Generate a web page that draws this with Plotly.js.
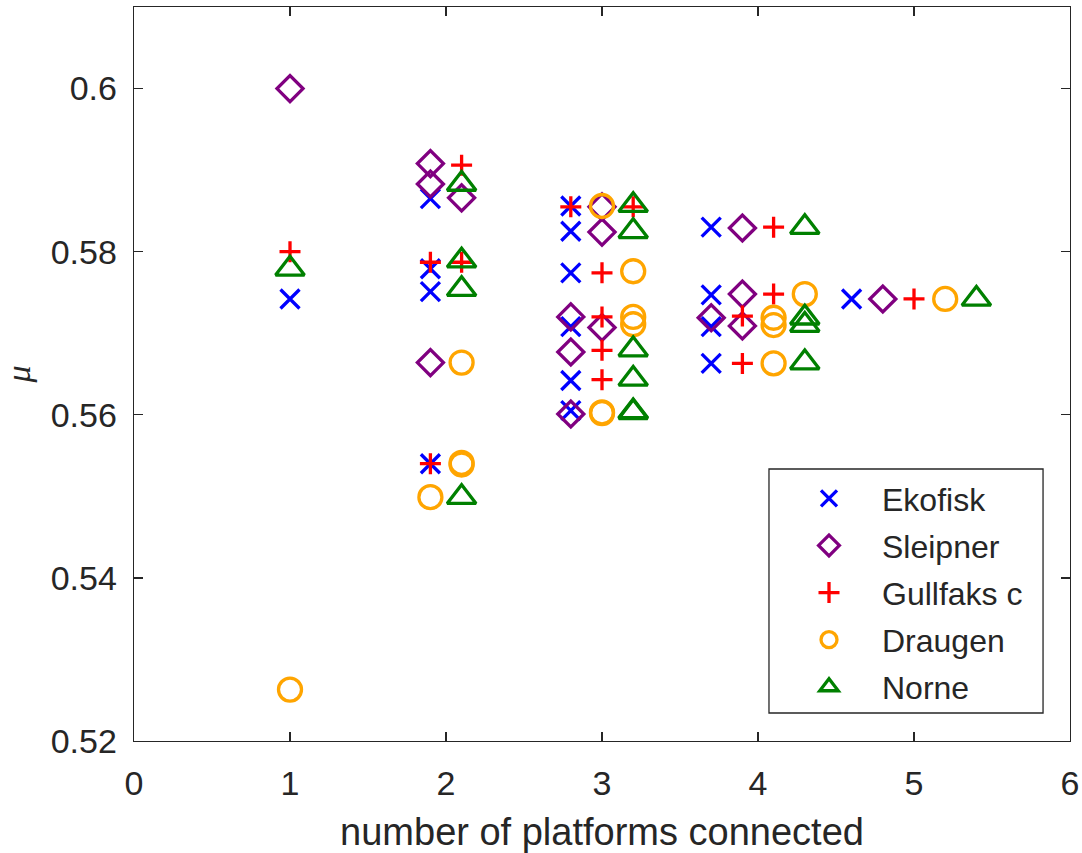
<!DOCTYPE html>
<html>
<head>
<meta charset="utf-8">
<script src="https://cdn.plot.ly/plotly-3.0.1.min.js"></script>
<style>html,body{margin:0;padding:0;background:#fff;}</style>
</head>
<body>
<div id="chart" style="width:1082px;height:853px;"></div>
<script>
// Series data (x = offset position around the number of platforms connected)
const seriesNames = ["Ekofisk", "Sleipner", "Gullfaks c", "Draugen", "Norne"];

const ekofiskX = [1, 1.9, 1.9, 1.9, 1.9, 2.8, 2.8, 2.8, 2.8, 2.8, 2.8, 3.7, 3.7, 3.7, 3.7, 4.6];
const ekofiskY = [0.5742, 0.5865, 0.5779, 0.5751, 0.5540, 0.5856, 0.5825, 0.5774, 0.5708, 0.5642, 0.5605, 0.5830, 0.5747, 0.5708, 0.5663, 0.5742];

const sleipnerX = [1, 1.9, 1.9, 1.9, 2.1, 3.0, 3.0, 3.0, 2.8, 2.8, 2.8, 3.9, 3.9, 3.9, 3.7, 4.8];
const sleipnerY = [0.6000, 0.5908, 0.5883, 0.5664, 0.5866, 0.5855, 0.5824, 0.5707, 0.5720, 0.5677, 0.5601, 0.5829, 0.5748, 0.5709, 0.5719, 0.5742];

const gullfaksX = [1, 1.9, 1.9, 2.1, 2.1, 2.8, 3.0, 3.0, 3.0, 3.0, 3.2, 4.1, 4.1, 3.9, 3.9, 5.0];
const gullfaksY = [0.5800, 0.5787, 0.5540, 0.5906, 0.5787, 0.5855, 0.5774, 0.5720, 0.5679, 0.5643, 0.5855, 0.5830, 0.5748, 0.5721, 0.5663, 0.5742];

const draugenX = [1, 1.9, 2.1, 2.1, 2.1, 3.0, 3.0, 3.0, 3.2, 3.2, 3.2, 4.3, 4.1, 4.1, 4.1, 5.2];
const draugenY = [0.5263, 0.5499, 0.5664, 0.5541, 0.5539, 0.5856, 0.5602, 0.5603, 0.5776, 0.5720, 0.5711, 0.5748, 0.5719, 0.5710, 0.5663, 0.5742];

const norneX = [1, 2.1, 2.1, 2.1, 2.1, 3.2, 3.2, 3.2, 3.2, 3.2, 3.2, 4.3, 4.3, 4.3, 4.3, 5.4];
const norneY = [0.5779, 0.5883, 0.5789, 0.5754, 0.5499, 0.5857, 0.5825, 0.5680, 0.5644, 0.5604, 0.5603, 0.5830, 0.5719, 0.5710, 0.5664, 0.5742];

const yTickVals = [0.52, 0.54, 0.56, 0.58, 0.6];
const yTickText = ["0.52", "0.54", "0.56", "0.58", "0.6"];
const xTickVals = [0, 1, 2, 3, 4, 5, 6];

const xs = [ekofiskX, sleipnerX, gullfaksX, draugenX, norneX];
const ys = [ekofiskY, sleipnerY, gullfaksY, draugenY, norneY];
const colors = ["#0000FF", "#800080", "#FF0000", "#FFA500", "#008000"];
const symbols = ["x-thin-open", "diamond-open", "cross-thin-open", "circle-open", "triangle-up-open"];
const sizes = [19, 20, 15, 23, 25];

const FONT = "'Liberation Sans', Arial, Helvetica, sans-serif";
const INK = "#262626";

const traces = seriesNames.map((name, i) => ({
  type: "scatter",
  mode: "markers",
  name: name,
  legendgroup: "g" + i,
  x: xs[i],
  y: ys[i],
  marker: {
    symbol: symbols[i],
    size: sizes[i],
    color: colors[i],
    line: { color: colors[i], width: 3.3 }
  },
  hoverinfo: "x+y+name"
}));

const layout = {
  width: 1082,
  height: 853,
  margin: { l: 134, r: 12, t: 7, b: 112, pad: 0 },
  paper_bgcolor: "#ffffff",
  plot_bgcolor: "#ffffff",
  font: { family: FONT, color: INK, size: 34 },
  showlegend: true,
  xaxis: {
    range: [0, 6],
    tickvals: xTickVals,
    ticks: "inside",
    ticklen: 9,
    tickwidth: 1.3,
    tickcolor: INK,
    showline: true,
    linecolor: INK,
    linewidth: 1.3,
    mirror: "allticks",
    showgrid: false,
    zeroline: false,
    tickfont: { family: FONT, size: 34, color: INK },
    ticklabelstandoff: 12,
    title: { text: "number of platforms connected", font: { family: FONT, size: 38, color: INK }, standoff: 20 }
  },
  yaxis: {
    range: [0.52, 0.61],
    tickvals: yTickVals,
    ticktext: yTickText,
    ticks: "inside",
    ticklen: 9,
    tickwidth: 1.3,
    tickcolor: INK,
    showline: true,
    linecolor: INK,
    linewidth: 1.3,
    mirror: "allticks",
    showgrid: false,
    zeroline: false,
    tickfont: { family: FONT, size: 34, color: INK },
    ticklabelstandoff: 9,
    title: { text: "<i>μ</i>", font: { family: "'Liberation Serif', 'DejaVu Serif', serif", size: 34, color: INK }, standoff: 16 }
  },
  legend: {
    x: 0.6859,
    y: 0.3678,
    xanchor: "left",
    yanchor: "top",
    bgcolor: "rgba(0,0,0,0)",
    borderwidth: 0,
    font: { family: FONT, size: 32, color: INK },
    itemwidth: 96,
    tracegroupgap: 2.5,
    traceorder: "grouped"
  },
  shapes: [{
    type: "rect",
    xref: "paper", yref: "paper",
    x0: 0.6784, x1: 0.9712, y0: 0.03815, y1: 0.3706,
    line: { color: INK, width: 1.3 },
    fillcolor: "#ffffff",
    layer: "below"
  }]
};

Plotly.newPlot("chart", traces, layout, { displayModeBar: false, staticPlot: true });
</script>
</body>
</html>
